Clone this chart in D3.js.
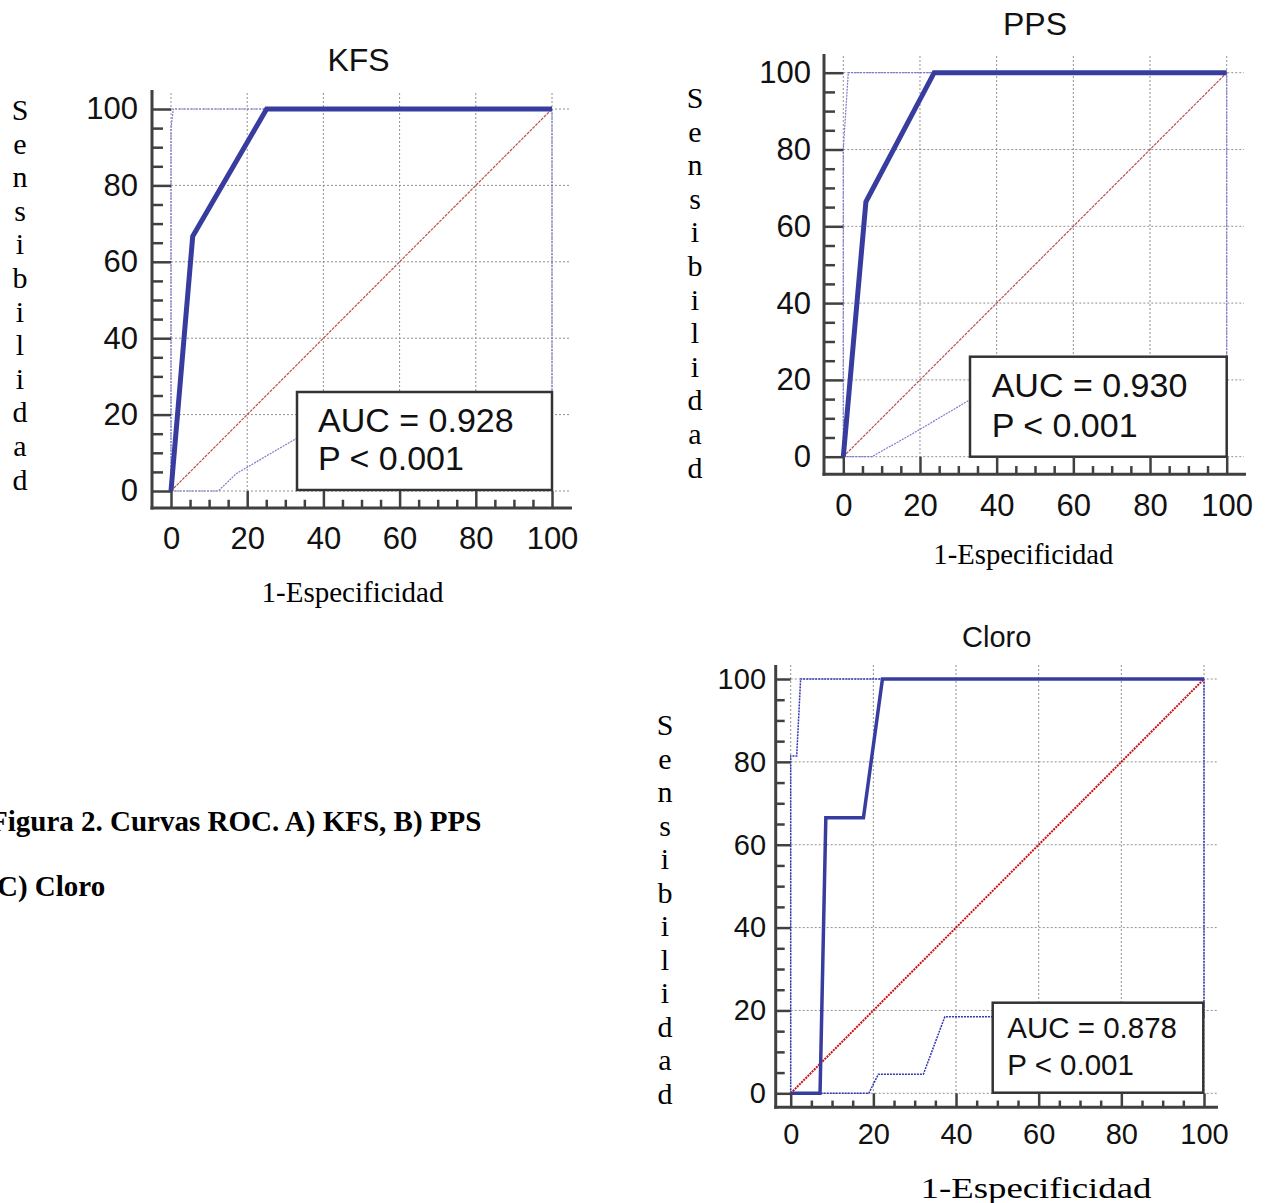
<!DOCTYPE html>
<html>
<head>
<meta charset="utf-8">
<script src="https://cdn.jsdelivr.net/npm/d3@7"></script>
<style>
  body { margin: 0; background: #fff; }
  svg { display: block; }
</style>
</head>
<body>
<div id="chart-area"></div>
<script>
// ---- Data (percent units) ----
const titles = ["KFS", "PPS", "Cloro"];
const aucLabels = ["AUC = 0.928", "AUC = 0.930", "AUC = 0.878"];
const pLabels = ["P < 0.001", "P < 0.001", "P < 0.001"];
const majorTicks = [0, 20, 40, 60, 80, 100];
const minorTicks = [5, 10, 15, 25, 30, 35, 45, 50, 55, 65, 70, 75, 85, 90, 95];
const yTitle = "Sensibilidad";
const xTitle = "1-Especificidad";
const captionLines = ["Figura 2. Curvas ROC. A) KFS, B) PPS", "C) Cloro"];

// [1-especificidad, sensibilidad]
const kfsRoc   = [[0, 0], [5.7, 66.7], [25.1, 100], [100, 100]];
const kfsUpper = [[0, 0], [0, 95], [0.6, 100], [25.1, 100]];
const kfsLower = [[0, 0], [12.4, 0], [17.2, 4.6], [33, 13.8], [100, 20], [100, 100]];

const ppsRoc   = [[0, 0], [5.9, 66.4], [23.7, 100], [100, 100]];
const ppsUpper = [[0, 0], [0, 80], [1.3, 100], [23.7, 100]];
const ppsLower = [[0, 0], [7.4, 0], [17.4, 5.6], [33, 14.8], [100, 20], [100, 100]];

const cloroRoc   = [[0, 0], [7.1, 0], [8.5, 66.5], [17.6, 66.5], [22.2, 100], [100, 100]];
const cloroUpper = [[0, 0], [0, 81.4], [1.45, 81.4], [2.4, 100], [22.2, 100]];
const cloroLower = [[0, 0], [18.9, 0], [21.2, 4.6], [32.1, 4.6], [37.3, 18.5], [100, 18.5], [100, 100]];

const diagonal = [[0, 0], [100, 100]];

const rocSeries = [kfsRoc, ppsRoc, cloroRoc];
const upperSeries = [kfsUpper, ppsUpper, cloroUpper];
const lowerSeries = [kfsLower, ppsLower, cloroLower];

// ---- Layout of each panel (pixels) ----
const panels = [
  { x0: 171, x1: 552, y0: 491, y1: 109, axisX: 152, axisY: 508, axisTop: 90, axisRight: 572,
    gridTop: 93, gridRight: 570, tickFont: 31, minorLen: 11,
    titleX: 358.5, titleY: 71, titleFont: 32,
    labelRight: 138, xLabelBase: 549,
    xtX: 352.5, xtY: 602, xtW: 182, xtFont: 30,
    sensX: 20, sensY: 120, sensStep: 33.6, sensFont: 30,
    box: [297, 392, 552, 490], aucX: 318, aucY: [431.7, 470], aucFont: 34, rocW: 5,
    dark: false },
  { x0: 843.3, x1: 1226.7, y0: 456.7, y1: 72.7, axisX: 824, axisY: 474.3, axisTop: 54, axisRight: 1246,
    gridTop: 56, gridRight: 1244, tickFont: 31, minorLen: 11,
    titleX: 1035, titleY: 35, titleFont: 32,
    labelRight: 811, xLabelBase: 516,
    xtX: 1023.3, xtY: 563.5, xtW: 180, xtFont: 30,
    sensX: 695, sensY: 108, sensStep: 33.6, sensFont: 30,
    box: [970, 356.7, 1226.7, 456.7], aucX: 991.7, aucY: [396.7, 436.7], aucFont: 34, rocW: 5,
    dark: false },
  { x0: 790.7, x1: 1204, y0: 1093.3, y1: 679, axisX: 775.7, axisY: 1107.3, axisTop: 665, axisRight: 1218,
    gridTop: 665, gridRight: 1217, tickFont: 29, minorLen: 9,
    titleX: 996.7, titleY: 646.7, titleFont: 29,
    labelRight: 766, xLabelBase: 1144,
    xtX: 1036, xtY: 1198, xtW: 231, xtFont: 30,
    sensX: 665, sensY: 735, sensStep: 33.5, sensFont: 30,
    box: [992.7, 1002.7, 1203.3, 1092.7], aucX: 1007.3, aucY: [1038.3, 1075], aucFont: 29.5, rocW: 3.5,
    dark: true }
];

const W = 1265, H = 1203;
const svg = d3.select("#chart-area").append("svg")
  .attr("width", W)
  .attr("height", H);

const SANS = "'Liberation Sans', Arial, sans-serif";
const SERIF = "'Liberation Serif', 'Times New Roman', serif";
const AXIS_COLOR = "#404040";

panels.forEach((p, i) => {
  const g = svg.append("g");
  const x = d3.scaleLinear().domain([0, 100]).range([p.x0, p.x1]);
  const y = d3.scaleLinear().domain([0, 100]).range([p.y0, p.y1]);
  const line = d3.line().x(d => x(d[0])).y(d => y(d[1]));

  // grid
  g.selectAll(".vgrid").data(majorTicks).enter().append("line")
    .attr("x1", d => x(d)).attr("x2", d => x(d))
    .attr("y1", p.gridTop).attr("y2", p.y0)
    .attr("stroke", "#909090").attr("stroke-width", 1).attr("stroke-dasharray", "2,2");
  g.selectAll(".hgrid").data(majorTicks).enter().append("line")
    .attr("x1", p.x0).attr("x2", p.gridRight)
    .attr("y1", d => y(d)).attr("y2", d => y(d))
    .attr("stroke", "#909090").attr("stroke-width", 1).attr("stroke-dasharray", "2,2");

  // confidence bands
  const bandColor = p.dark ? "#3236b0" : "#7a7ad0";
  [upperSeries[i], lowerSeries[i]].forEach(s => {
    g.append("path").datum(s)
      .attr("d", line)
      .attr("fill", "none")
      .attr("stroke", bandColor)
      .attr("stroke-width", p.dark ? 1.5 : 1.2)
      .attr("stroke-dasharray", p.dark ? "2,1" : "2,1");
  });

  // reference diagonal
  g.append("path").datum(diagonal)
    .attr("d", line)
    .attr("fill", "none")
    .attr("stroke", p.dark ? "#cc1010" : "#b85050")
    .attr("stroke-width", p.dark ? 2 : 1.2)
    .attr("stroke-dasharray", p.dark ? "2,1" : "3,1");

  // ROC curve
  g.append("path").datum(rocSeries[i])
    .attr("d", line)
    .attr("fill", "none")
    .attr("stroke", "#383c9e")
    .attr("stroke-width", p.rocW)
    .attr("stroke-linejoin", "miter");

  // AUC box
  const b = p.box;
  g.append("rect")
    .attr("x", b[0]).attr("y", b[1])
    .attr("width", b[2] - b[0]).attr("height", b[3] - b[1])
    .attr("fill", "#fff")
    .attr("stroke", "#333").attr("stroke-width", 2.5);
  [aucLabels[i], pLabels[i]].forEach((t, k) => {
    g.append("text")
      .attr("x", p.aucX).attr("y", p.aucY[k])
      .attr("font-family", SANS).attr("font-size", p.aucFont)
      .attr("fill", "#111")
      .text(t);
  });

  // axes: y
  const yMajor = d3.axisLeft(y).tickValues(majorTicks)
    .tickSize(-(p.x0 - p.axisX)).tickPadding(p.axisX - p.labelRight);
  const yAx = g.append("g").attr("transform", `translate(${p.axisX},0)`).call(yMajor);
  const yMinor = d3.axisLeft(y).tickValues(minorTicks).tickSize(-p.minorLen).tickFormat("");
  const yAx2 = g.append("g").attr("transform", `translate(${p.axisX},0)`).call(yMinor);

  // axes: x
  const xMajor = d3.axisBottom(x).tickValues(majorTicks).tickSize(-(p.axisY - p.y0));
  const xAx = g.append("g").attr("transform", `translate(0,${p.axisY})`).call(xMajor);
  const xMinor = d3.axisBottom(x).tickValues(minorTicks).tickSize(-(p.minorLen * 0.75)).tickFormat("");
  const xAx2 = g.append("g").attr("transform", `translate(0,${p.axisY})`).call(xMinor);

  [yAx, yAx2, xAx, xAx2].forEach(a => {
    a.select(".domain").remove();
    a.selectAll(".tick line").attr("stroke", AXIS_COLOR).attr("stroke-width", 2.5);
  });
  yAx.selectAll("text")
    .attr("font-family", SANS).attr("font-size", p.tickFont).attr("fill", "#111");
  xAx.selectAll("text")
    .attr("font-family", SANS).attr("font-size", p.tickFont).attr("fill", "#111")
    .attr("y", p.xLabelBase - p.axisY).attr("dy", 0);

  // axis lines
  g.append("line")
    .attr("x1", p.axisX).attr("x2", p.axisX)
    .attr("y1", p.axisTop).attr("y2", p.axisY + 1.5)
    .attr("stroke", AXIS_COLOR).attr("stroke-width", 3);
  g.append("line")
    .attr("x1", p.axisX - 1.5).attr("x2", p.axisRight)
    .attr("y1", p.axisY).attr("y2", p.axisY)
    .attr("stroke", AXIS_COLOR).attr("stroke-width", 3);

  // title
  g.append("text")
    .attr("x", p.titleX).attr("y", p.titleY)
    .attr("text-anchor", "middle")
    .attr("font-family", SANS).attr("font-size", p.titleFont).attr("fill", "#111")
    .text(titles[i]);

  // x title
  g.append("text")
    .attr("x", p.xtX).attr("y", p.xtY)
    .attr("text-anchor", "middle")
    .attr("font-family", SERIF).attr("font-size", p.xtFont).attr("fill", "#000")
    .attr("textLength", p.xtW).attr("lengthAdjust", "spacingAndGlyphs")
    .text(xTitle);

  // y title, stacked letters
  g.selectAll(".sens").data(yTitle.split("")).enter().append("text")
    .attr("x", p.sensX)
    .attr("y", (d, k) => p.sensY + k * p.sensStep)
    .attr("text-anchor", "middle")
    .attr("font-family", SERIF).attr("font-size", p.sensFont).attr("fill", "#000")
    .text(d => d);
});

// caption (the source figure crops its left edge)
captionLines.forEach((t, k) => {
  svg.append("text")
    .attr("x", k === 0 ? -10 : -3)
    .attr("y", k === 0 ? 831 : 896)
    .attr("font-family", SERIF).attr("font-size", 29).attr("font-weight", "bold")
    .attr("fill", "#000")
    .text(t);
});
</script>
</body>
</html>
